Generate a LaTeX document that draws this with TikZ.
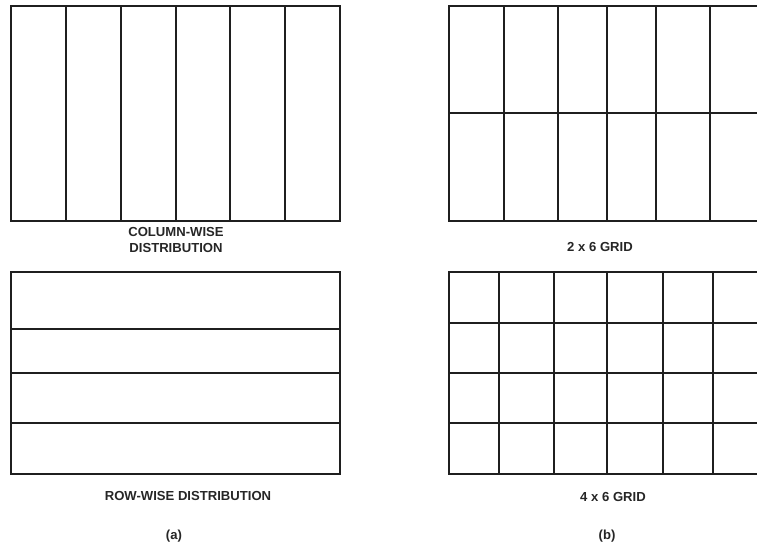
\documentclass[tikz,border=0pt]{standalone}
\usepackage{fontspec}
\setmainfont{Liberation Sans}
\usetikzlibrary{positioning}

\begin{document}
\begin{tikzpicture}[x=1pt, y=-1pt, line width=1.8pt, draw=black!88,
    every node/.style={font=\fontsize{13.1}{16}\selectfont\bfseries, text=black!85, inner sep=0pt}]
  \useasboundingbox (0,0) rectangle (757,550);
  \clip (0,0) rectangle (757,550);
  % (a) column-wise
  \begin{scope}
    \draw (11,6) rectangle (340,221);
    \foreach \x in {66,121,176,230,285}
      \draw (\x,6) -- (\x,221);
    \node[align=center] (colcap) at (176,240) {COLUMN-WISE\\DISTRIBUTION};
  \end{scope}
  % (a) row-wise
  \begin{scope}
    \draw (11,272) rectangle (340,474);
    \foreach \y in {329,373,423}
      \draw (11,\y) -- (340,\y);
    \node (rowcap) at (188,496) {ROW-WISE DISTRIBUTION};
    \node (capa) at (174,536) {(a)};
  \end{scope}
  % (b) 2 x 6
  \begin{scope}
    \draw (760,6) -- (449,6) -- (449,221) -- (760,221);
    \draw (449,113) -- (760,113);
    \foreach \x in {504,558,607,656,710}
      \draw (\x,6) -- (\x,221);
    \node (grida) at (600,247) {2 x 6 GRID};
  \end{scope}
  % (b) 4 x 6
  \begin{scope}
    \draw (760,272) -- (449,272) -- (449,474) -- (760,474);
    \foreach \y in {323,373,423}
      \draw (449,\y) -- (760,\y);
    \foreach \x in {499,554,607,663,713}
      \draw (\x,272) -- (\x,474);
    \node (gridb) at (613,497) {4 x 6 GRID};
    \node (capb) at (607,536) {(b)};
  \end{scope}
\end{tikzpicture}
\end{document}
